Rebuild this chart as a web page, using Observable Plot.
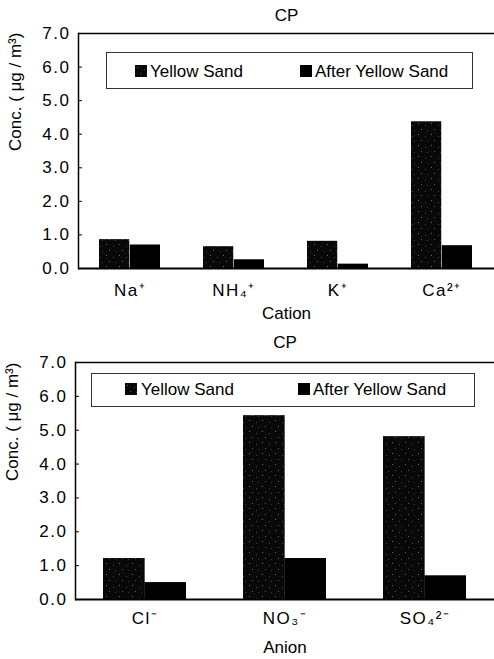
<!DOCTYPE html>
<html>
<head>
<meta charset="utf-8">
<script src="https://cdn.jsdelivr.net/npm/d3@7"></script>
<script src="https://cdn.jsdelivr.net/npm/@observablehq/plot@0.6"></script>
<style>
  body { margin: 0; background: #fff; }
  #root { position: relative; width: 494px; height: 659px; overflow: hidden; background: #fff;
          font-family: "Liberation Sans", Arial, sans-serif; color: #000; }
  .chart { position: absolute; left: 0; }
  .legend { position: absolute; box-sizing: border-box; border: 1px solid #333; background: #fff; }
  .legend .sw { position: absolute; width: 12px; height: 12px; }
  .legend .lt { position: absolute; font-size: 17px; line-height: 17px; white-space: nowrap; }
  svg g[aria-label="y-axis tick label"] text,
  svg g[aria-label="x-axis tick label"] text { letter-spacing: 1.5px; }
</style>
</head>
<body>
<svg width="0" height="0" style="position:absolute">
  <defs>
    <pattern id="speckle" width="13" height="11" patternUnits="userSpaceOnUse">
      <rect width="13" height="11" fill="#080808"/>
      <rect x="2" y="2" width="1" height="1" fill="#6a6a6a"/>
      <rect x="9" y="4" width="1" height="1" fill="#4a4a4a"/>
      <rect x="5" y="8" width="1" height="1" fill="#5c5c5c"/>
      <rect x="11" y="9" width="1" height="1" fill="#3a3a3a"/>
    </pattern>
  </defs>
</svg>
<div id="root"></div>
<script>
// ---- data ----
const seriesNames = ["Yellow Sand", "After Yellow Sand"];
const yTicks = [0, 1, 2, 3, 4, 5, 6, 7];
const yLabel = "Conc. ( μg / m³)";
const chartTitle = "CP";

const cations = ["Na⁺", "NH₄⁺", "K⁺", "Ca²⁺"];
const cationYellow = [0.86, 0.65, 0.81, 4.37];
const cationAfter = [0.70, 0.26, 0.13, 0.68];

const anions = ["Cl⁻", "NO₃⁻", "SO₄²⁻"];
const anionYellow = [1.21, 5.43, 4.81];
const anionAfter = [0.50, 1.21, 0.70];

const W = 494;
const root = document.getElementById("root");

function makeChart(cfg) {
  const rows = cfg.cats.map((c, i) => ({cat: c, yellow: cfg.yellow[i], after: cfg.after[i]}));
  const pi = 0.41, po = 0.2;
  const step = (W - cfg.marginLeft) / (cfg.cats.length - pi + 2 * po);
  const half = step * (1 - pi) / 2;
  const svg = Plot.plot({
    width: W,
    height: cfg.height,
    marginTop: cfg.marginTop,
    marginBottom: cfg.marginBottom,
    marginLeft: cfg.marginLeft,
    marginRight: 0,
    style: {fontFamily: '"Liberation Sans", Arial, sans-serif', fontSize: "17px", color: "#000", background: "#fff", overflow: "visible"},
    x: {domain: cfg.cats, paddingInner: pi, paddingOuter: po},
    y: {domain: [0, 7]},
    marks: [
      Plot.barY(rows, {x: "cat", y: "yellow", fill: "url(#speckle)", insetRight: half}),
      Plot.barY(rows, {x: "cat", y: "after", fill: "#000", insetLeft: half}),
      Plot.ruleY([7], {stroke: "#000", strokeWidth: 1.5}),
      Plot.ruleY([0], {stroke: "#000", strokeWidth: 2}),
      Plot.frame({anchor: "left", stroke: "#000", strokeWidth: 1.5}),
      Plot.axisY({ticks: yTicks, tickFormat: d3.format(".1f"), tickSize: 0, tickPadding: 8, label: null}),
      Plot.axisY({ticks: yTicks, tickSize: -4, tickFormat: () => "", label: null, stroke: "#000"}),
      Plot.axisX({tickSize: 0, tickPadding: cfg.tickPad, label: null}),
      Plot.text([cfg.xLabel], {frameAnchor: "bottom", dy: cfg.xLabelDy, text: d => d, fontSize: 17, lineAnchor: "middle", letterSpacing: 1}),
      Plot.text([yLabel], {frameAnchor: "left", dx: -63, rotate: -90, text: d => d, fontSize: 17, lineAnchor: "middle"}),
      Plot.text([chartTitle], {frameAnchor: "top", dy: cfg.titleDy, text: d => d, fontSize: 17, lineAnchor: "middle"})
    ]
  });
  const wrap = document.createElement("div");
  wrap.className = "chart";
  wrap.style.top = cfg.top + "px";
  wrap.appendChild(svg);
  root.appendChild(wrap);

  // legend
  const lg = document.createElement("div");
  lg.className = "legend";
  Object.assign(lg.style, {left: cfg.lg.x + "px", top: cfg.lg.y + "px", width: cfg.lg.w + "px", height: cfg.lg.h + "px"});
  const fills = ["url(#speckle)", "#000"];
  seriesNames.forEach((name, i) => {
    const sw = document.createElementNS("http://www.w3.org/2000/svg", "svg");
    sw.setAttribute("class", "sw");
    sw.setAttribute("width", 12); sw.setAttribute("height", 12);
    sw.style.left = cfg.lg.sw[i] + "px";
    sw.style.top = cfg.lg.swTop + "px";
    const r = document.createElementNS("http://www.w3.org/2000/svg", "rect");
    r.setAttribute("width", 12); r.setAttribute("height", 12); r.setAttribute("fill", fills[i]);
    sw.appendChild(r);
    lg.appendChild(sw);
    const t = document.createElement("span");
    t.className = "lt";
    t.textContent = name;
    t.style.left = cfg.lg.tx[i] + "px";
    t.style.top = cfg.lg.tTop + "px";
    lg.appendChild(t);
  });
  root.appendChild(lg);
}

makeChart({
  cats: cations, yellow: cationYellow, after: cationAfter, xLabel: "Cation",
  top: 0, height: 330, marginTop: 33, marginBottom: 62, marginLeft: 78,
  titleDy: -18, xLabelDy: 45, tickPad: 15,
  lg: {x: 106, y: 52, w: 367, h: 37, sw: [28, 193], swTop: 12, tx: [43, 208], tTop: 10}
});

makeChart({
  cats: anions, yellow: anionYellow, after: anionAfter, xLabel: "Anion",
  top: 330, height: 329, marginTop: 32, marginBottom: 60, marginLeft: 75,
  titleDy: -20, xLabelDy: 48, tickPad: 12,
  lg: {x: 91, y: 373, w: 384, h: 34, sw: [33, 206], swTop: 9, tx: [49, 221], tTop: 7}
});
</script>
</body>
</html>
